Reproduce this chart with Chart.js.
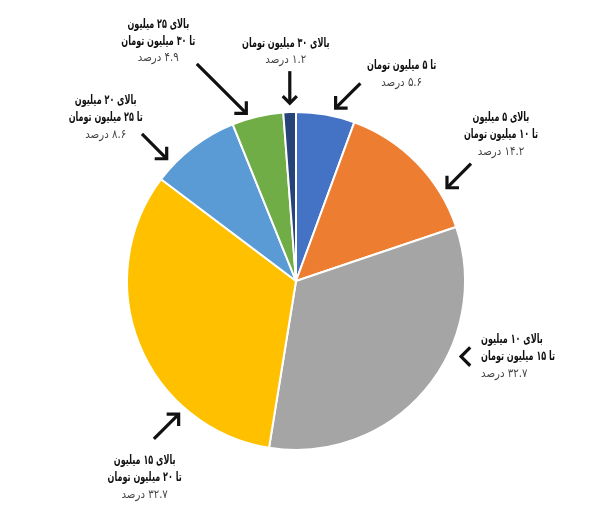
<!DOCTYPE html>
<html>
<head>
<meta charset="utf-8">
<script src="https://cdn.jsdelivr.net/npm/chart.js@4/dist/chart.umd.min.js"></script>
<style>
html,body{margin:0;padding:0;background:#fff;}
#wrap{width:598px;height:505px;position:relative;}
</style>
</head>
<body>
<div id="wrap"><canvas id="c"></canvas></div>
<script>
// ---- data ----
const categories = [
  'تا ۵ میلیون تومان',
  'بالای ۵ تا ۱۰ میلیون تومان',
  'بالای ۱۰ تا ۱۵ میلیون تومان',
  'بالای ۱۵ تا ۲۰ میلیون تومان',
  'بالای ۲۰ تا ۲۵ میلیون تومان',
  'بالای ۲۵ تا ۳۰ میلیون تومان',
  'بالای ۳۰ میلیون تومان'
];
const values = [5.6, 14.2, 32.7, 32.7, 8.6, 4.9, 1.2];
const labelLines = [
  ['تا ۵ میلیون تومان'],
  ['بالای ۵ میلیون', 'تا ۱۰ میلیون تومان'],
  ['بالای ۱۰ میلیون', 'تا ۱۵ میلیون تومان'],
  ['بالای ۱۵ میلیون', 'تا ۲۰ میلیون تومان'],
  ['بالای ۲۰ میلیون', 'تا ۲۵ میلیون تومان'],
  ['بالای ۲۵ میلیون', 'تا ۳۰ میلیون تومان'],
  ['بالای ۳۰ میلیون تومان']
];
const percentLabels = ['۵.۶ درصد', '۱۴.۲ درصد', '۳۲.۷ درصد', '۳۲.۷ درصد', '۸.۶ درصد', '۴.۹ درصد', '۱.۲ درصد'];
const colors = ['#4472C4', '#ED7D31', '#A5A5A5', '#FFC000', '#5B9BD5', '#70AD47', '#264478'];

// ---- annotation layout (angle from top clockwise, distance as radius factor, arrow dir, shaft length, text offset) ----
const annoLayout = [
  {ang: 12.9,  f: 1.05,  dir: [-1, 1], shaft: 35, head: 12, tx: 66,  ty: -42, align: 'center'},
  {ang: 58.3,  f: 1.05,  dir: [-1, 1], shaft: 34, head: 12, tx: 54,  ty: -70, align: 'center'},
  {ang: 114.6, f: 1.074, dir: [-1, 0], shaft: 0,  head: 13, tx: 20,  ty: -17, align: 'left'},
  {ang: 221.4, f: 1.05,  dir: [1, -1], shaft: 35, head: 12, tx: -34, ty: 47,  align: 'center'},
  {ang: 313.4, f: 1.053, dir: [1, 1],  shaft: 35, head: 12, tx: -61, ty: -58, align: 'center'},
  {ang: 343.5, f: 1.035, dir: [1, 1],  shaft: 70, head: 12, tx: -88, ty: -89, align: 'center'},
  {ang: 358.0, f: 1.053, dir: [0, 1],  shaft: 32, head: 10, tx: -4,  ty: -60, align: 'center'}
];
const BOLD_SCALE_X = 0.62;
const PCT_SCALE_X = 0.85;

const annoPlugin = {
  id: 'anno',
  afterDraw(chart) {
    const ctx = chart.ctx;
    const meta = chart.getDatasetMeta(0);
    const arc0 = meta.data[0];
    const cx = arc0.x, cy = arc0.y, R = arc0.outerRadius;
    annoLayout.forEach((L, i) => {
      ctx.save();
      const a = L.ang * Math.PI / 180;
      const tipX = cx + R * L.f * Math.sin(a);
      const tipY = cy - R * L.f * Math.cos(a);
      let [dx, dy] = L.dir;
      const n = Math.hypot(dx, dy); dx /= n; dy /= n;
      ctx.strokeStyle = '#111';
      ctx.lineWidth = 3.2;
      ctx.lineCap = 'butt';
      ctx.lineJoin = 'miter';
      if (L.shaft > 0) {
        ctx.beginPath();
        ctx.moveTo(tipX - dx * L.shaft, tipY - dy * L.shaft);
        ctx.lineTo(tipX - dx * 2, tipY - dy * 2);
        ctx.stroke();
      }
      const bx = -dx, by = -dy;
      const c = Math.cos(Math.PI / 4), s = Math.sin(Math.PI / 4);
      const a1x = bx * c - by * s, a1y = bx * s + by * c;
      const a2x = bx * c + by * s, a2y = -bx * s + by * c;
      ctx.beginPath();
      ctx.moveTo(tipX + a1x * L.head, tipY + a1y * L.head);
      ctx.lineTo(tipX, tipY);
      ctx.lineTo(tipX + a2x * L.head, tipY + a2y * L.head);
      ctx.stroke();
      ctx.restore();

      // text (horizontally condensed)
      const x0 = tipX + L.tx;
      let y = tipY + L.ty;
      ctx.save();
      ctx.translate(x0, 0);
      ctx.scale(BOLD_SCALE_X, 1);
      ctx.direction = 'rtl';
      ctx.textAlign = L.align;
      ctx.textBaseline = 'middle';
      ctx.fillStyle = '#111';
      ctx.font = 'bold 13px "DejaVu Sans"';
      labelLines[i].forEach(line => {
        ctx.fillText(line, 0, y);
        y += 17;
      });
      ctx.restore();
      ctx.save();
      ctx.translate(x0, 0);
      ctx.scale(PCT_SCALE_X, 1);
      ctx.direction = 'rtl';
      ctx.textAlign = L.align;
      ctx.textBaseline = 'middle';
      ctx.fillStyle = '#444';
      ctx.font = '12px "DejaVu Sans"';
      ctx.fillText(percentLabels[i], 0, y);
      ctx.restore();
    });
  }
};

new Chart(document.getElementById('c'), {
  type: 'pie',
  data: {
    labels: categories,
    datasets: [{
      data: values,
      backgroundColor: colors,
      borderColor: '#ffffff',
      borderWidth: 2
    }]
  },
  options: {
    responsive: true,
    maintainAspectRatio: false,
    animation: false,
    layout: {padding: {top: 111, bottom: 54, left: 126, right: 132}},
    plugins: {legend: {display: false}, tooltip: {enabled: false}}
  },
  plugins: [annoPlugin]
});
</script>
</body>
</html>
